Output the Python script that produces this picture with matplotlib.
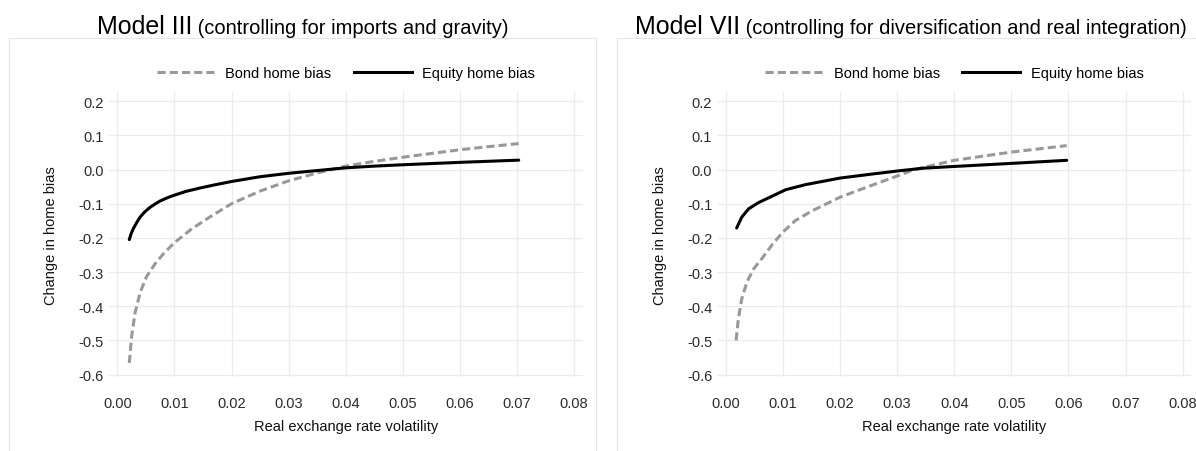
import matplotlib
matplotlib.use("Agg")
import matplotlib.pyplot as plt
from matplotlib.patches import Rectangle
from matplotlib.lines import Line2D

plt.rcParams['font.family'] = ['Liberation Sans', 'DejaVu Sans']

# ---------------- data ----------------
# Model III
m3_bond_x = [0.0021, 0.0025, 0.0031, 0.0040, 0.0051, 0.0066, 0.0081, 0.0100, 0.0130, 0.0160,
             0.0200, 0.0250, 0.0300, 0.0350, 0.0400, 0.0450, 0.0500, 0.0550, 0.0600, 0.0650, 0.0703]
m3_bond_y = [-0.566, -0.490, -0.420, -0.360, -0.314, -0.276, -0.246, -0.214, -0.174, -0.141,
             -0.100, -0.063, -0.033, -0.010, 0.010, 0.024, 0.036, 0.047, 0.058, 0.067, 0.076]
m3_eq_x = [0.0021, 0.0024, 0.0028, 0.0034, 0.0040, 0.0048, 0.0057, 0.0066, 0.0075, 0.0087,
           0.0100, 0.0120, 0.0145, 0.0170, 0.0200, 0.0250, 0.0300, 0.0350,
           0.0400, 0.0450, 0.0500, 0.0600, 0.0703]
m3_eq_y = [-0.205, -0.189, -0.173, -0.155, -0.139, -0.124, -0.111, -0.101, -0.092, -0.083,
           -0.075, -0.064, -0.054, -0.045, -0.035, -0.021, -0.011, -0.003,
           0.005, 0.010, 0.014, 0.021, 0.0275]

# Model VII
m7_bond_x = [0.0018, 0.0022, 0.0028, 0.0037, 0.0049, 0.0063, 0.0081, 0.0100, 0.0122, 0.0152,
             0.0200, 0.0246, 0.0300, 0.0330, 0.0400, 0.0500, 0.0597]
m7_bond_y = [-0.500, -0.437, -0.378, -0.329, -0.290, -0.261, -0.220, -0.183, -0.149, -0.120,
             -0.081, -0.052, -0.019, 0.000, 0.027, 0.051, 0.070]
m7_eq_x = [0.0019, 0.0028, 0.0040, 0.0057, 0.0081, 0.0105, 0.0140, 0.0200, 0.0257, 0.0307,
           0.0346, 0.0400, 0.0500, 0.0597]
m7_eq_y = [-0.171, -0.139, -0.115, -0.097, -0.078, -0.059, -0.044, -0.025, -0.013, -0.003,
           0.004, 0.009, 0.018, 0.027]

x_ticks = [0.00, 0.01, 0.02, 0.03, 0.04, 0.05, 0.06, 0.07, 0.08]
y_ticks = [-0.6, -0.5, -0.4, -0.3, -0.2, -0.1, 0.0, 0.1, 0.2]
series_labels = ["Bond home bias", "Equity home bias"]
titles_main = ["Model III", "Model VII"]
titles_sub = [" (controlling for imports and gravity)",
              " (controlling for diversification and real integration)"]
x_title = "Real exchange rate volatility"
y_title = "Change in home bias"

panels = [(m3_bond_x, m3_bond_y, m3_eq_x, m3_eq_y),
          (m7_bond_x, m7_bond_y, m7_eq_x, m7_eq_y)]

# ---------------- figure ----------------
W, H = 1196, 452
fig = plt.figure(figsize=(W / 100, H / 100), dpi=100)

GRID = '#EBEBEB'
BOND_C = '#999999'
dash = (0, (2.67, 1.33))
LW = 2.2
FS = 10.5

ax_left_px = [109.3, 717.8]
ax_w_px = 473.4
ax_top_px = 93.3
ax_bot_px = 378.0
panel_left_px = [9.3, 617.3]
panel_w_px = 586.7
panel_top_px = 39.3
ylab_x_px = [51.0, 659.5]

for i, (bx, by, ex, ey) in enumerate(panels):
    # panel border
    fig.patches.append(Rectangle((panel_left_px[i] / W, -0.05), panel_w_px / W,
                                 (H - panel_top_px) / H + 0.05,
                                 transform=fig.transFigure, fill=False,
                                 edgecolor='#E6E6E6', lw=0.8, zorder=0))
    ax = fig.add_axes([ax_left_px[i] / W, (H - ax_bot_px) / H, ax_w_px / W,
                       (ax_bot_px - ax_top_px) / H])
    ax.plot(bx, by, color=BOND_C, lw=LW, linestyle=dash, label=series_labels[0],
            dash_capstyle='butt')
    ax.plot(ex, ey, color='black', lw=LW, label=series_labels[1],
            solid_capstyle='round', solid_joinstyle='round')
    ax.set_xlim(-0.0014, 0.0815)
    ax.set_ylim(-0.607, 0.226)
    ax.set_xticks(x_ticks)
    ax.set_xticklabels([f"{v:.2f}" for v in x_ticks])
    ax.set_yticks(y_ticks)
    ax.set_yticklabels([f"{v:.1f}" for v in y_ticks])
    ax.tick_params(axis='both', length=0, labelsize=FS, colors='#2b2b2b')
    ax.tick_params(axis='x', pad=14)
    ax.tick_params(axis='y', pad=4)
    ax.grid(True, color=GRID, lw=0.9)
    ax.set_axisbelow(True)
    for s in ax.spines.values():
        s.set_visible(False)
    ax.text(0.5, (ax_bot_px - 427) / (ax_bot_px - ax_top_px), x_title,
            transform=ax.transAxes, ha='center', va='center', fontsize=FS, color='#111111')
    ax.text((ylab_x_px[i] - ax_left_px[i]) / ax_w_px, 0.5, y_title,
            transform=ax.transAxes, rotation=90, ha='center', va='center',
            fontsize=FS, color='#111111')
    handles = [Line2D([], [], color=BOND_C, lw=LW, linestyle=dash),
               Line2D([], [], color='black', lw=LW)]
    ax.legend(handles, series_labels, loc='center', ncol=2, frameon=False,
              bbox_to_anchor=(0.5, (ax_bot_px - 74) / (ax_bot_px - ax_top_px)),
              fontsize=FS, handlelength=3.95, handletextpad=0.75, columnspacing=1.55,
              borderaxespad=0, borderpad=0)

# titles (two sizes, centred over each panel)
fig.canvas.draw()
renderer = fig.canvas.get_renderer()
base_y = (H - 34) / H
for i in range(2):
    cx = panel_left_px[i] + panel_w_px / 2
    t1 = fig.text(0, base_y, titles_main[i], fontsize=18, va='baseline', ha='left')
    t2 = fig.text(0, base_y, titles_sub[i], fontsize=14.5, va='baseline', ha='left')
    w1 = t1.get_window_extent(renderer).width
    w2 = t2.get_window_extent(renderer).width
    start = cx - (w1 + w2) / 2
    t1.set_x(start / W)
    t2.set_x((start + w1) / W)

fig.savefig("out.png", dpi=100)
